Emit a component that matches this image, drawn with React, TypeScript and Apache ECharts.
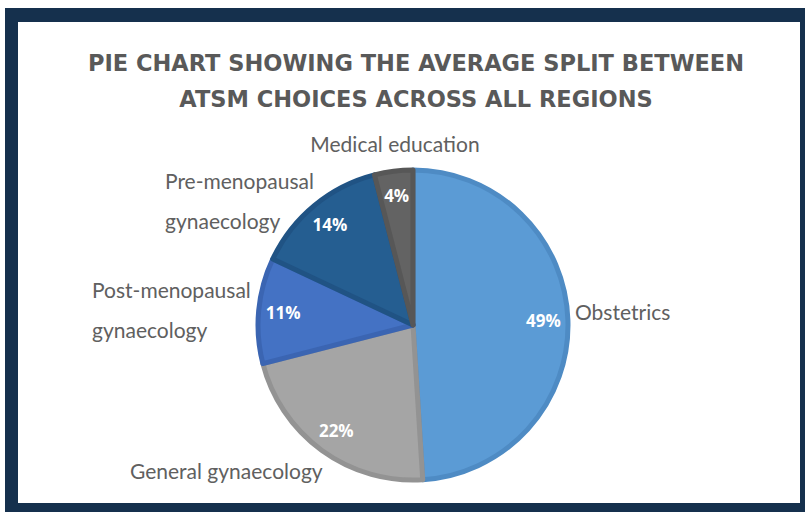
import React, { useEffect, useRef } from "react";
import * as echarts from "echarts";

const categories = [
  "Obstetrics",
  "General gynaecology",
  "Post-menopausal\ngynaecology",
  "Pre-menopausal\ngynaecology",
  "Medical education",
];
const shares = [49, 22, 11, 14, 4];

const fillColors = ["#5b9bd5", "#a5a5a5", "#4472c4", "#255e91", "#636363"];
const edgeColors = ["#4e8bc4", "#939393", "#3b65b2", "#205384", "#575757"];

const labelPlaces = [
  { x: 575, y: 311, align: "left" },
  { x: 130, y: 470, align: "left" },
  { x: 92, y: 309, align: "left" },
  { x: 165, y: 200, align: "left" },
  { x: 395, y: 143, align: "center" },
];

const titleText = "PIE CHART SHOWING THE AVERAGE SPLIT BETWEEN\nATSM CHOICES ACROSS ALL REGIONS";

export default function App() {
  const ref = useRef<HTMLDivElement>(null);
  useEffect(() => {
    if (!ref.current) return;
    const chart = echarts.init(ref.current, null, { renderer: "svg" });
    const data = categories.map((name, i) => ({
      name,
      value: shares[i],
      itemStyle: { color: fillColors[i], borderColor: edgeColors[i], borderWidth: 5 },
    }));
    chart.setOption({
      animation: false,
      backgroundColor: "#ffffff",
      graphic: [
        {
          type: "rect",
          z: -10,
          shape: { x: 5, y: 8, width: 800, height: 504 },
          style: { fill: "#15304d" },
        },
        {
          type: "rect",
          z: -9,
          shape: { x: 18, y: 22, width: 782, height: 481 },
          style: { fill: "#ffffff" },
        },
      ],
      title: {
        text: titleText,
        left: 411,
        textAlign: "center",
        top: 40,
        textStyle: {
          fontFamily: "DejaVu Sans",
          fontWeight: "bold",
          fontSize: 22.5,
          color: "#595959",
          lineHeight: 36,
        },
      },
      series: [
        {
          type: "pie",
          center: [413, 325],
          radius: 155,
          startAngle: 90,
          clockwise: true,
          silent: true,
          avoidLabelOverlap: false,
          data,
          label: {
            show: true,
            position: "outside",
            fontFamily: "Lato",
            fontSize: 21,
            color: "#606060",
            lineHeight: 40,
          },
          labelLine: { show: false },
          labelLayout: (params: any) => {
            const p = labelPlaces[params.dataIndex];
            return { x: p.x, y: p.y, align: p.align, verticalAlign: "middle" };
          },
        },
        {
          type: "pie",
          center: [413, 325],
          radius: [100, 155],
          startAngle: 90,
          clockwise: true,
          silent: true,
          data: categories.map((name, i) => ({ name, value: shares[i] })),
          itemStyle: { color: "rgba(0,0,0,0)" },
          label: {
            show: true,
            position: "inside",
            formatter: (p: any) => p.value + "%",
            fontFamily: "Open Sans",
            fontWeight: "bold",
            fontSize: 17,
            color: "#ffffff",
          },
          labelLine: { show: false },
        },
      ],
    });
    return () => chart.dispose();
  }, []);
  return (
    <div
      ref={ref}
      style={{ position: "fixed", left: 0, top: 0, width: 805, height: 512 }}
    />
  );
}
